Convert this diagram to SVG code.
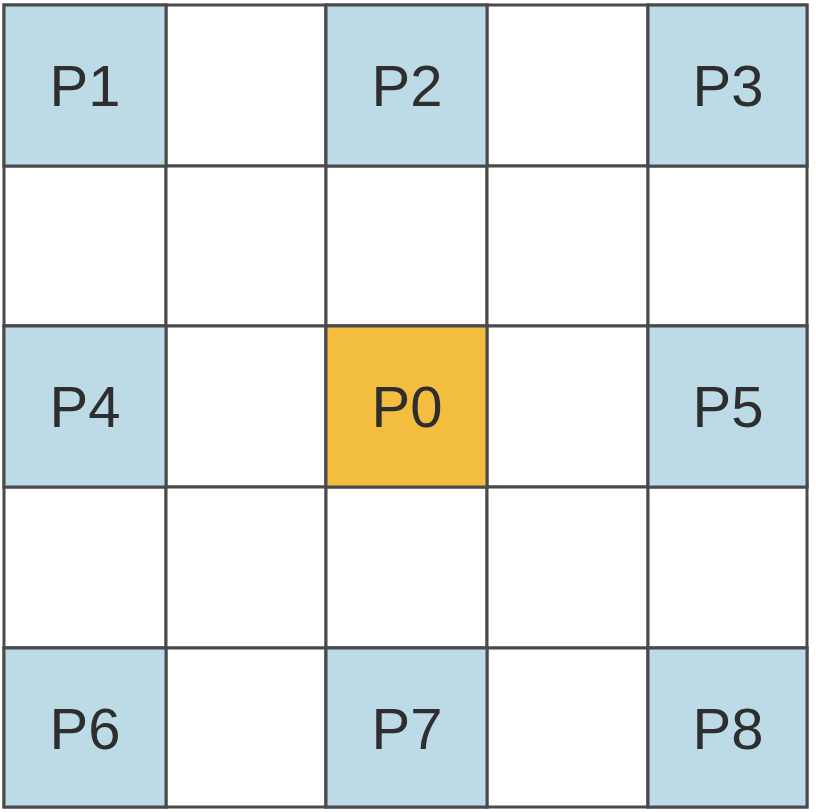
<svg xmlns="http://www.w3.org/2000/svg" width="816" height="812" viewBox="0 0 816 812">
<style>
.c{fill:#ffffff;stroke:#4a4a4a;stroke-width:3}
.b{fill:#bddbe6}
.o{fill:#f3bd3f}
.t{font-family:"Liberation Sans",Arial,sans-serif;font-size:58px;fill:#2e2e2e;text-anchor:middle}
</style>
<rect width="816" height="812" fill="#ffffff"/>
<g id="grid">
<rect class="c" x="4" y="5" width="162" height="161"/>
<rect class="c" x="166" y="5" width="160" height="161"/>
<rect class="c" x="326" y="5" width="161" height="161"/>
<rect class="c" x="487" y="5" width="161" height="161"/>
<rect class="c" x="648" y="5" width="159" height="161"/>
<rect class="c" x="4" y="166" width="162" height="160"/>
<rect class="c" x="166" y="166" width="160" height="160"/>
<rect class="c" x="326" y="166" width="161" height="160"/>
<rect class="c" x="487" y="166" width="161" height="160"/>
<rect class="c" x="648" y="166" width="159" height="160"/>
<rect class="c" x="4" y="326" width="162" height="161"/>
<rect class="c" x="166" y="326" width="160" height="161"/>
<rect class="c" x="326" y="326" width="161" height="161"/>
<rect class="c" x="487" y="326" width="161" height="161"/>
<rect class="c" x="648" y="326" width="159" height="161"/>
<rect class="c" x="4" y="487" width="162" height="161"/>
<rect class="c" x="166" y="487" width="160" height="161"/>
<rect class="c" x="326" y="487" width="161" height="161"/>
<rect class="c" x="487" y="487" width="161" height="161"/>
<rect class="c" x="648" y="487" width="159" height="161"/>
<rect class="c" x="4" y="648" width="162" height="159"/>
<rect class="c" x="166" y="648" width="160" height="159"/>
<rect class="c" x="326" y="648" width="161" height="159"/>
<rect class="c" x="487" y="648" width="161" height="159"/>
<rect class="c" x="648" y="648" width="159" height="159"/>
</g>
<g id="P1"><rect class="c b" x="4" y="5" width="162" height="161"/><text class="t" x="85" y="106">P1</text></g>
<g id="P2"><rect class="c b" x="326" y="5" width="161" height="161"/><text class="t" x="407" y="106">P2</text></g>
<g id="P3"><rect class="c b" x="648" y="5" width="159" height="161"/><text class="t" x="728" y="106">P3</text></g>
<g id="P4"><rect class="c b" x="4" y="326" width="162" height="161"/><text class="t" x="85" y="427">P4</text></g>
<g id="P0"><rect class="c o" x="326" y="326" width="161" height="161"/><text class="t" x="407" y="427">P0</text></g>
<g id="P5"><rect class="c b" x="648" y="326" width="159" height="161"/><text class="t" x="728" y="427">P5</text></g>
<g id="P6"><rect class="c b" x="4" y="648" width="162" height="159"/><text class="t" x="85" y="749">P6</text></g>
<g id="P7"><rect class="c b" x="326" y="648" width="161" height="159"/><text class="t" x="407" y="749">P7</text></g>
<g id="P8"><rect class="c b" x="648" y="648" width="159" height="159"/><text class="t" x="728" y="749">P8</text></g>
<g id="connectors"/>
</svg>
